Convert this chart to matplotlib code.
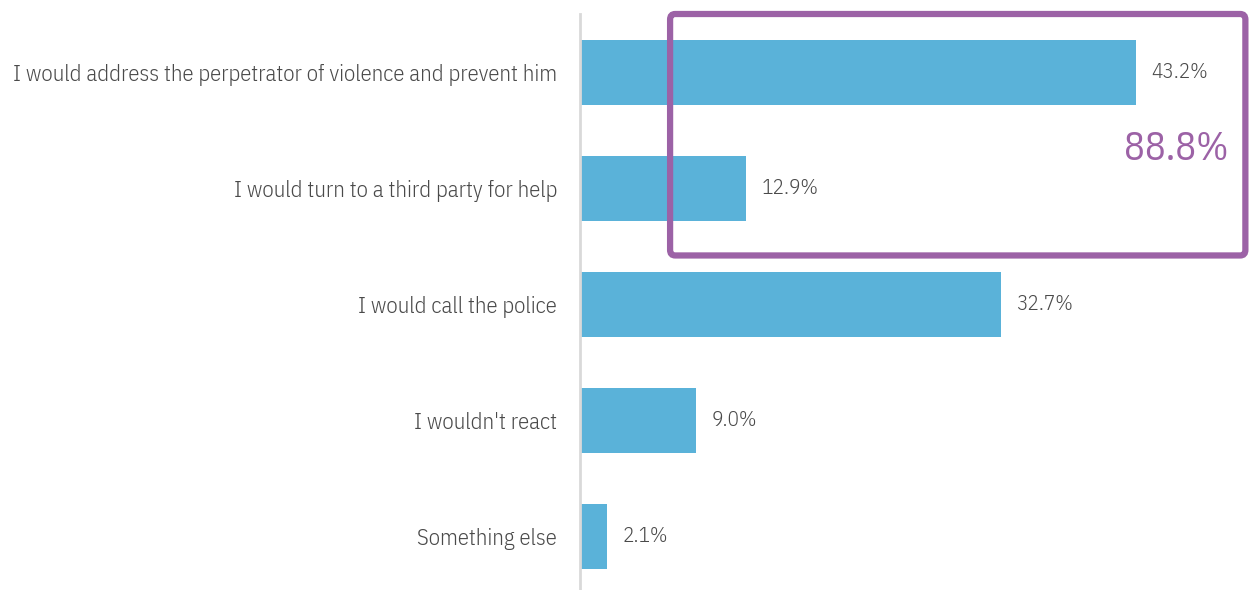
import matplotlib.pyplot as plt
from matplotlib.patches import FancyBboxPatch

categories = [
    "I would address the perpetrator of violence and prevent him",
    "I would turn to a third party for help",
    "I would call the police",
    "I wouldn't react",
    "Something else",
]
shares = [43.2, 12.9, 32.7, 9.0, 2.1]
highlight_total = 88.8

bar_color = "#5ab2d9"
purple = "#9c62a6"
text_color = "#4a4a4a"
font = ["IBM Plex Sans Condensed", "DejaVu Sans"]

fig = plt.figure(figsize=(12.52, 5.9), dpi=100)
ax = fig.add_axes([580 / 1252, 0, 672 / 1252, 576 / 590])

ypos = list(range(len(categories)))
ax.barh(ypos, shares, height=0.56, color=bar_color)
ax.set_xlim(0, 672 / 12.87)
ax.set_ylim(4.457, -0.5)

for y, v in zip(ypos, shares):
    ax.text(v + 1.2, y, f"{v:.1f}%", va="center", ha="left",
            fontsize=15.3, color=text_color, family=font, weight=300)

ax.set_yticks(ypos)
ax.set_yticklabels(categories, fontsize=16.4, color=text_color,
                   family=font, weight=300)
ax.tick_params(axis="y", length=0, pad=16.5)
ax.set_xticks([])

for side in ["top", "right", "bottom"]:
    ax.spines[side].set_visible(False)
ax.spines["left"].set_color("#d9d9d9")
ax.spines["left"].set_linewidth(2)

# highlight box around the first two answers
box = FancyBboxPatch((7.0, -0.5), 44.7, 2.078,
                     boxstyle="round,pad=0,rounding_size=0.4",
                     fill=False, edgecolor=purple, linewidth=4.5,
                     clip_on=False, mutation_aspect=0.12)
ax.add_patch(box)
ax.text(46.3, 0.665, f"{highlight_total:.1f}%", ha="center", va="center",
        fontsize=27.8, color=purple, family=font, weight=400)

fig.savefig("out.png", dpi=100)
